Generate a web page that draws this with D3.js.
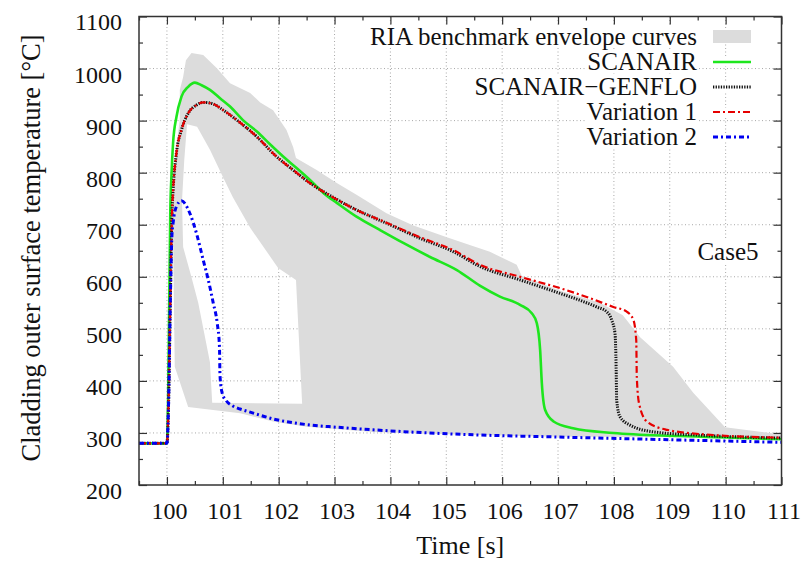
<!DOCTYPE html>
<html>
<head>
<meta charset="utf-8">
<script src="https://cdn.jsdelivr.net/npm/d3@7"></script>
<style>
  body { margin: 0; background: #fff; }
  text { font-family: "Liberation Serif", "Times New Roman", serif; fill: #111; }
</style>
</head>
<body>
<svg id="chart" width="806" height="564"></svg>
<script>
// Cladding outer surface temperature, Case5

// Axis ticks
const timeTicks = [100, 101, 102, 103, 104, 105, 106, 107, 108, 109, 110, 111];
const tempTicks = [200, 300, 400, 500, 600, 700, 800, 900, 1000, 1100];

// RIA benchmark envelope (outer boundary, then the empty region inside it)
const envOuterT = [100.38, 100.14, 100.11, 100.11, 100.16, 100.23, 100.23, 100.29, 100.34, 100.44, 100.65, 100.89,
  101.13, 101.49, 101.67, 101.90, 102.14, 102.26, 102.31, 102.68, 103.04, 103.40, 103.93, 104.40, 105.01, 105.42,
  105.78, 106.26, 106.35, 107.04, 107.75, 108.16, 108.47, 109.06, 109.42, 109.99, 110.79, 111.0,
  111.0, 106.68, 104.89, 103.69, 102.50, 101.90, 101.31];
const envOuterY = [350, 427, 676, 747, 843, 901, 959, 984, 1016, 1030, 1026, 1001,
  972, 953, 935, 920, 882, 849, 828, 805, 780, 757, 722, 699, 676, 661,
  648, 623, 602, 573, 550, 526, 484, 427, 377, 311, 300, 298,
  291, 293, 298, 302, 312, 322, 338];
const envHoleT = [100.36, 100.54, 100.77, 101.00, 101.18, 101.49, 101.99, 102.31, 102.42, 100.81, 100.77, 100.56,
  100.43, 100.29, 100.27, 100.31];
const envHoleY = [893, 888, 844, 792, 753, 694, 617, 594, 356, 358, 436, 550, 603, 657, 747, 824];

// SCANAIR
const scanairT = [99.5, 100.0, 100.02, 100.04, 100.06, 100.08, 100.11, 100.17, 100.26, 100.38, 100.5, 100.62, 100.77,
  100.95, 101.13, 101.36, 101.61, 101.84, 102.08, 102.32, 102.56, 102.8, 103.04, 103.4, 103.81, 104.23, 104.71,
  105.19, 105.6, 105.96, 106.32, 106.53, 106.62, 106.68, 106.71, 106.77, 106.92, 107.27, 107.99, 109.18, 111.0];
const scanairY = [280, 280, 360, 540, 725, 792, 857, 907, 946, 965, 973, 968, 959,
  943, 927, 901, 879, 855, 831, 809, 786, 761, 742, 715, 690, 665, 638,
  613, 583, 562, 546, 530, 511, 459, 396, 344, 322, 309, 300, 294, 288];

// SCANAIR-GENFLO
const genfloT = [99.5, 100.0, 100.03, 100.06, 100.09, 100.11, 100.17, 100.26, 100.38, 100.53, 100.65, 100.8, 101.01,
  101.25, 101.61, 101.96, 102.26, 102.56, 102.92, 103.4, 103.93, 104.53, 105.13, 105.6, 106.32, 107.04, 107.39,
  107.69, 107.87, 107.96, 108.02, 108.04, 108.05, 108.11, 108.29, 108.71, 109.48, 111.0];
const genfloY = [280, 280, 360, 550, 720, 766, 838, 882, 914, 930, 935, 933, 920,
  901, 869, 831, 805, 780, 756, 728, 703, 674, 648, 620, 594, 568, 555,
  542, 533, 517, 491, 427, 363, 331, 315, 302, 296, 290];

// Variation 1
const var1T = [99.5, 100.0, 100.03, 100.06, 100.09, 100.11, 100.17, 100.26, 100.38, 100.53, 100.65, 100.8, 101.01,
  101.25, 101.61, 101.96, 102.26, 102.56, 102.92, 103.4, 103.93, 104.53, 105.13, 105.6, 106.32, 107.04, 107.57,
  107.99, 108.23, 108.35, 108.40, 108.41, 108.45, 108.59, 108.95, 109.78, 111.0];
const var1Y = [280, 280, 360, 550, 720, 766, 838, 882, 914, 930, 935, 933, 920,
  901, 869, 831, 805, 780, 756, 728, 704, 676, 651, 623, 600, 578, 559,
  542, 533, 517, 478, 408, 357, 322, 306, 296, 291];

// Variation 2
const var2T = [99.5, 100.0, 100.03, 100.06, 100.09, 100.11, 100.17, 100.26, 100.41, 100.53, 100.65, 100.74, 100.83,
  100.9, 100.94, 100.95, 100.99, 101.06, 101.16, 101.31, 101.49, 101.9, 102.5, 103.04, 103.69, 104.89, 105.6, 106.68, 111.0];
const var2Y = [280, 280, 360, 550, 680, 703, 735, 746, 722, 683, 632, 594, 549,
  511, 466, 410, 376, 362, 353, 346, 340, 327, 316, 311, 306, 299, 296, 293, 282];

const legendNames = ['RIA benchmark envelope curves', 'SCANAIR', 'SCANAIR\u2212GENFLO', 'Variation 1', 'Variation 2'];

// Set up dimensions and margins
const margin = { top: 16.5, right: 24.5, bottom: 79, left: 139 };
const width = 806 - margin.left - margin.right;
const height = 564 - margin.top - margin.bottom;

const svg = d3.select('#chart')
  .append('g')
  .attr('transform', `translate(${margin.left}, ${margin.top})`);

const x = d3.scaleLinear().domain([99.5, 111]).range([0, width]);
const y = d3.scaleLinear().domain([200, 1100]).range([height, 0]);

svg.append('defs').append('clipPath').attr('id', 'plot-clip')
  .append('rect').attr('width', width).attr('height', height);

// Grid lines (dotted)
const grid = svg.append('g').attr('stroke', '#a8a8a8').attr('stroke-width', 1).attr('stroke-dasharray', '1,2.5');
grid.selectAll('.gx').data(timeTicks.filter(d => d < 111)).enter().append('line')
  .attr('x1', d => x(d)).attr('x2', d => x(d)).attr('y1', 0).attr('y2', height);
grid.selectAll('.gy').data(tempTicks.filter(d => d > 200 && d < 1100)).enter().append('line')
  .attr('x1', 0).attr('x2', width).attr('y1', d => y(d)).attr('y2', d => y(d));

// Envelope area with an empty hole (evenodd)
const ptLine = d3.line().x(d => x(d[0])).y(d => y(d[1]));
const outerPts = envOuterT.map((t, i) => [t, envOuterY[i]]);
const holePts = envHoleT.map((t, i) => [t, envHoleY[i]]);
const plot = svg.append('g').attr('clip-path', 'url(#plot-clip)');
plot.append('path')
  .attr('d', ptLine(outerPts) + 'Z' + ptLine(holePts) + 'Z')
  .attr('fill', '#dcdcdc')
  .attr('fill-rule', 'evenodd');

// Series lines
const series = [
  { t: scanairT, v: scanairY, color: '#1ee61e', width: 2.6, dash: null },
  { t: genfloT, v: genfloY, color: '#111', width: 3, dash: '1.3,1.3' },
  { t: var1T, v: var1Y, color: '#e60000', width: 2.2, dash: '7,3,2,3' },
  { t: var2T, v: var2Y, color: '#0000f0', width: 3, dash: '5,3,2,3' }
];
const curve = d3.line().x(d => x(d[0])).y(d => y(d[1])).curve(d3.curveMonotoneX);
series.forEach(s => {
  plot.append('path')
    .datum(s.t.map((t, i) => [t, s.v[i]]))
    .attr('d', curve)
    .attr('fill', 'none')
    .attr('stroke', s.color)
    .attr('stroke-width', s.width)
    .attr('stroke-dasharray', s.dash);
});

// Axes: ticks point inward on all four sides
const minorT = d3.range(99.5, 111.01, 0.5).filter(d => !timeTicks.includes(d));
const minorY = d3.range(250, 1100, 100);

function styleAxis(g) {
  g.select('.domain').remove();
  g.selectAll('line').attr('stroke', '#333').attr('stroke-width', 1.2);
  g.selectAll('text').style('font-size', '24px').attr('fill', '#111');
}

svg.append('g').attr('transform', `translate(0, ${height})`)
  .call(d3.axisBottom(x).tickValues(timeTicks).tickSize(-8).tickPadding(17).tickFormat(d3.format('d')))
  .call(styleAxis)
  .selectAll('text').attr('dx', '2');
svg.append('g').attr('transform', `translate(0, ${height})`)
  .call(d3.axisBottom(x).tickValues(minorT).tickSize(-4).tickFormat('')).call(styleAxis);
svg.append('g')
  .call(d3.axisTop(x).tickValues(timeTicks).tickSize(-8).tickFormat('')).call(styleAxis);
svg.append('g')
  .call(d3.axisTop(x).tickValues(minorT).tickSize(-4).tickFormat('')).call(styleAxis);

svg.append('g')
  .call(d3.axisLeft(y).tickValues(tempTicks).tickSize(-8).tickPadding(17).tickFormat(d3.format('d')))
  .call(styleAxis)
  .selectAll('text').attr('dy', '0.56em');
svg.append('g')
  .call(d3.axisLeft(y).tickValues(minorY).tickSize(-4).tickFormat('')).call(styleAxis);
svg.append('g').attr('transform', `translate(${width}, 0)`)
  .call(d3.axisRight(y).tickValues(tempTicks).tickSize(-8).tickFormat('')).call(styleAxis);
svg.append('g').attr('transform', `translate(${width}, 0)`)
  .call(d3.axisRight(y).tickValues(minorY).tickSize(-4).tickFormat('')).call(styleAxis);

// Frame
svg.append('rect')
  .attr('width', width).attr('height', height)
  .attr('fill', 'none').attr('stroke', '#333').attr('stroke-width', 1.5);

// Axis labels
svg.append('text')
  .attr('x', width / 2).attr('y', height + 69)
  .attr('text-anchor', 'middle')
  .style('font-size', '26px')
  .text('Time [s]');
svg.append('text')
  .attr('transform', 'rotate(-90)')
  .attr('x', -(248 - margin.top)).attr('y', 40 - margin.left)
  .attr('text-anchor', 'middle')
  .style('font-size', '26.5px')
  .text('Cladding outer surface temperature [\u00b0C]');

// Text with white box behind it (hides the grid)
function boxedText(parent, tx, ty, anchor, str) {
  const t = parent.append('text')
    .attr('x', tx).attr('y', ty)
    .attr('text-anchor', anchor)
    .style('font-size', '25px')
    .text(str);
  const b = t.node().getBBox();
  parent.insert('rect', () => t.node())
    .attr('x', b.x - 1).attr('y', b.y + 2).attr('width', b.width + 2).attr('height', b.height - 4)
    .attr('fill', '#fff');
  return t;
}

// Legend
const legend = svg.append('g');
const legendRight = 697 - margin.left;
const sampleX0 = 713 - margin.left;
const sampleX1 = 751 - margin.left;
legendNames.forEach((name, i) => {
  const cy = 37 + 25 * i - margin.top;
  boxedText(legend, legendRight, cy + 8, 'end', name);
  if (i === 0) {
    legend.append('rect')
      .attr('x', sampleX0).attr('y', cy - 7)
      .attr('width', sampleX1 - sampleX0).attr('height', 13)
      .attr('fill', '#dcdcdc');
  } else {
    const s = series[i - 1];
    legend.append('rect')
      .attr('x', sampleX0 - 1).attr('y', cy - 4).attr('width', sampleX1 - sampleX0 + 2).attr('height', 8)
      .attr('fill', '#fff');
    legend.append('line')
      .attr('x1', sampleX0).attr('x2', sampleX1)
      .attr('y1', cy).attr('y2', cy)
      .attr('stroke', s.color)
      .attr('stroke-width', s.width)
      .attr('stroke-dasharray', s.dash);
  }
});

// Case label
boxedText(svg, 728 - margin.left, 260 - margin.top, 'middle', 'Case5');
</script>
</body>
</html>
